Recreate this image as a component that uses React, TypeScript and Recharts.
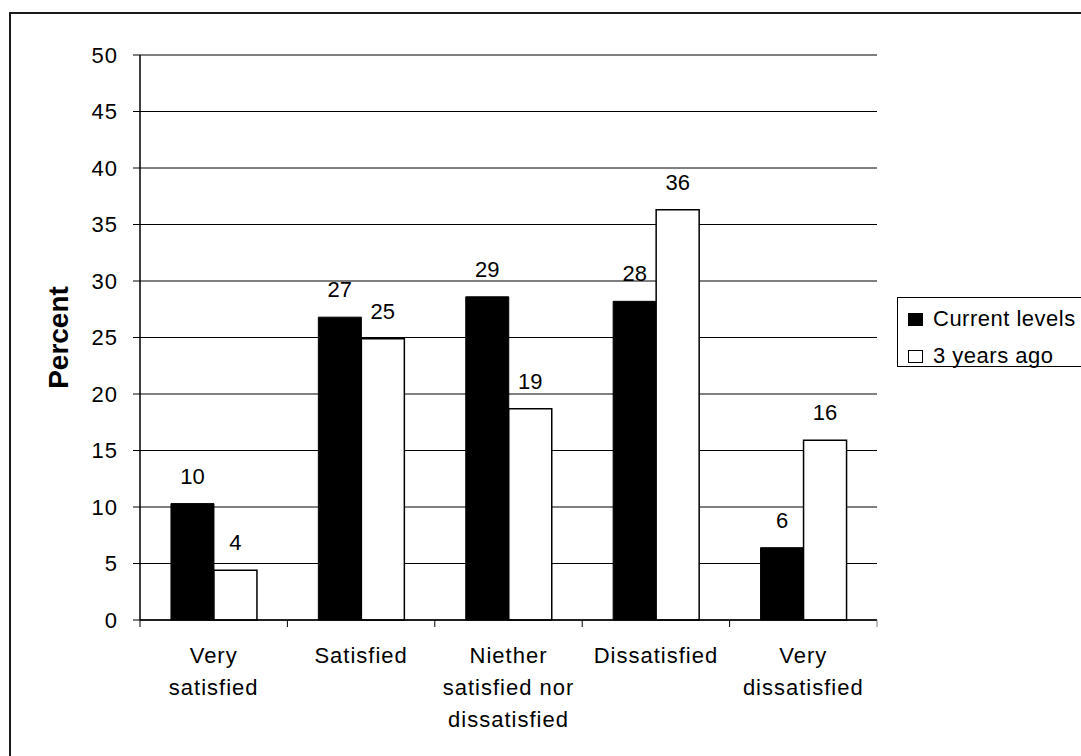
import React from 'react';
import { BarChart, Bar, XAxis, YAxis, CartesianGrid, LabelList, Legend, ReferenceLine } from 'recharts';

const categories = ['Very satisfied', 'Satisfied', 'Niether satisfied nor dissatisfied', 'Dissatisfied', 'Very dissatisfied'];
const tickLabelLines = [
  ['Very', 'satisfied'],
  ['Satisfied'],
  ['Niether', 'satisfied nor', 'dissatisfied'],
  ['Dissatisfied'],
  ['Very', 'dissatisfied'],
];
const currentLevels = [10.3, 26.8, 28.6, 28.2, 6.4];
const threeYearsAgo = [4.4, 24.9, 18.7, 36.3, 15.9];
const yTicks = [0, 5, 10, 15, 20, 25, 30, 35, 40, 45, 50];
const seriesNames = ['Current levels', '3 years ago'];
const seriesFills = ['#000000', '#ffffff'];

const data = categories.map((c, i) => ({ category: c, current: currentLevels[i], past: threeYearsAgo[i] }));

const FONT = '"Liberation Sans", Arial, sans-serif';

const CategoryTick = (props: any) => {
  const { x, y, payload } = props;
  const idx = props.index ?? payload.index ?? 0;
  const half = payload.offset ?? 0;
  const lines = tickLabelLines[idx] ?? [String(payload.value)];
  const last = idx === categories.length - 1;
  return (
    <g>
      <line x1={x - half} x2={x - half} y1={y} y2={y + 7} stroke="#000" strokeWidth={1} />
      {last && <line x1={x + half} x2={x + half} y1={y} y2={y + 7} stroke="#808080" strokeWidth={1} />}
      <text x={x} y={y + 43} textAnchor="middle" fontSize={22} fill="#000" fontFamily={FONT} letterSpacing={1}>
        {lines.map((l: string, i: number) => (
          <tspan key={i} x={x} dy={i === 0 ? 0 : 32}>{l}</tspan>
        ))}
      </text>
    </g>
  );
};

const PercentLabel = (props: any) => {
  const vb = props.viewBox || { x: 0, y: 0, width: 0, height: 0 };
  const cx = vb.x + 58;
  const cy = vb.y + vb.height / 2;
  return (
    <text x={cx} y={cy} transform={`rotate(-90, ${cx}, ${cy})`} textAnchor="middle" dominantBaseline="central"
      fontSize={28} fontWeight="bold" fill="#000" fontFamily={FONT}>Percent</text>
  );
};

const renderLegend = (props: any) => {
  const payload = [...(props.payload || [])].sort(
    (a: any, b: any) => seriesNames.indexOf(a.value) - seriesNames.indexOf(b.value)
  );
  return (
    <div style={{ position: 'relative', width: 200, height: 70, border: '1px solid #000', boxSizing: 'border-box', background: '#fff', fontFamily: FONT }}>
      {payload.map((entry: any, i: number) => (
        <div key={entry.value} style={{ position: 'absolute', left: 10, top: 8 + i * 37, height: 26, display: 'flex', alignItems: 'center', whiteSpace: 'nowrap' }}>
          <span style={{ display: 'inline-block', width: 15, height: 13, boxSizing: 'border-box', background: seriesFills[seriesNames.indexOf(entry.value)], border: '1px solid #000', marginRight: 10 }} />
          <span style={{ fontSize: 22, lineHeight: '26px', color: '#000', letterSpacing: 0.5 }}>{entry.value}</span>
        </div>
      ))}
    </div>
  );
};

export default function App() {
  return (
    <div style={{ position: 'absolute', left: 0, top: 0, width: 1081, height: 756, overflow: 'hidden', background: '#fff' }}>
      <div style={{ position: 'absolute', left: 9, top: 12, width: 1200, height: 900, borderTop: '2px solid #1a1a1a', borderLeft: '2px solid #1a1a1a' }} />
      <div style={{ position: 'absolute', left: 0, top: 0 }}>
        <BarChart width={1081} height={756} data={data} margin={{ top: 55, right: 4, bottom: 36, left: 0 }}
          barCategoryGap="21%" barGap={0} style={{ fontFamily: FONT }}>
          <CartesianGrid vertical={false} stroke="#000" strokeWidth={1} />
          <XAxis dataKey="category" height={100} interval={0} tickSize={0} tickMargin={0} tickLine={false}
            axisLine={{ stroke: '#000', strokeWidth: 1.5 }} tick={<CategoryTick />} />
          <YAxis domain={[0, 50]} ticks={yTicks} width={140} interval={0} tickSize={7} tickMargin={15}
            axisLine={{ stroke: '#000', strokeWidth: 1.5 }} tickLine={{ stroke: '#000' }}
            tick={{ fontSize: 22, fill: '#000', fontFamily: FONT, letterSpacing: 1 }} label={<PercentLabel />} />
          <YAxis yAxisId="right" orientation="right" width={0} domain={[0, 50]} tick={false} tickLine={false}
            axisLine={{ stroke: '#808080', strokeWidth: 2 }} />
          <ReferenceLine y={50} stroke="#808080" strokeWidth={1.5} />
          <Legend layout="horizontal" verticalAlign="middle" align="right" content={renderLegend}
            wrapperStyle={{ position: 'absolute', left: 897, top: 297, width: 200, height: 70, right: 'auto', bottom: 'auto' }} />
          <Bar dataKey="current" name={seriesNames[0]} fill={seriesFills[0]} stroke="#000" strokeWidth={1} isAnimationActive={false}>
            <LabelList dataKey="current" position="top" offset={20} formatter={(v: any) => Math.round(Number(v))}
              fontSize={22} fill="#000" fontFamily={FONT} />
          </Bar>
          <Bar dataKey="past" name={seriesNames[1]} fill={seriesFills[1]} stroke="#000" strokeWidth={1.5} isAnimationActive={false}>
            <LabelList dataKey="past" position="top" offset={20} formatter={(v: any) => Math.round(Number(v))}
              fontSize={22} fill="#000" fontFamily={FONT} />
          </Bar>
        </BarChart>
      </div>
    </div>
  );
}
